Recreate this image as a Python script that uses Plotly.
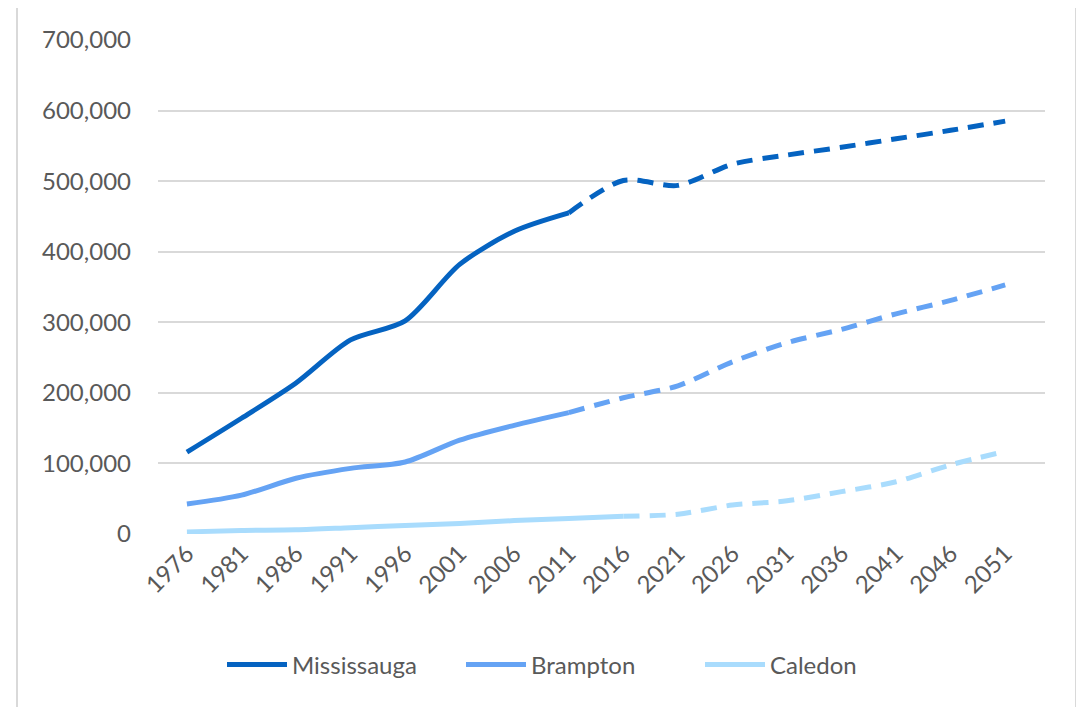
import plotly.graph_objects as go

years = ["1976", "1981", "1986", "1991", "1996", "2001", "2006", "2011",
         "2016", "2021", "2026", "2031", "2036", "2041", "2046", "2051"]
mississauga = [116000, 164000, 214000, 275000, 302000, 382000, 429000, 455000,
               501000, 494000, 524000, 537000, 548000, 560000, 572000, 585000]
brampton = [42500, 55000, 79000, 93000, 102000, 133000, 154000, 172000,
            193000, 210000, 244000, 271000, 290000, 312000, 331000, 353000]
caledon = [3000, 5000, 6000, 9000, 12000, 15000, 19000, 22000,
           25000, 28000, 41000, 47000, 60000, 74000, 98000, 117000]

series_names = ["Mississauga", "Brampton", "Caledon"]
series_values = [mississauga, brampton, caledon]
colors = ["#0563C1", "#65A3F4", "#A9DCFD"]
projection_start = ["2011", "2011", "2016"]

FONT = "Lato"
TEXT = "#595959"

fig = go.Figure()
for name, vals, col, ps in zip(series_names, series_values, colors, projection_start):
    k = years.index(ps)
    fig.add_trace(go.Scatter(
        x=years[:k + 1], y=vals[:k + 1], mode="lines", name=name,
        legendgroup=name,
        line=dict(color=col, width=5, shape="spline", smoothing=0.8),
        hoverinfo="skip"))
    fig.add_trace(go.Scatter(
        x=years[k:], y=vals[k:], mode="lines", name=name,
        legendgroup=name, showlegend=False,
        line=dict(color=col, width=5, shape="spline", smoothing=0.8,
                  dash="16px,10px"),
        hoverinfo="skip"))

OFF = 8  # page body margin
W, H = 1084 - OFF, 707 - OFF
L, R, T, B = 158 - OFF, 1045 - OFF, 40 - OFF, 534 - OFF
pw, ph = R - L, B - T

def px_x(x):
    return (x - OFF - L) / pw

def px_y(y):
    return (B - (y - OFF)) / ph

border = dict(color="#D9D9D9", width=2)
fig.add_shape(type="line", xref="paper", yref="paper",
              x0=px_x(17), x1=px_x(17), y0=px_y(5), y1=px_y(720), line=border)
fig.add_shape(type="line", xref="paper", yref="paper",
              x0=px_x(1076), x1=px_x(1076), y0=px_y(5), y1=px_y(720), line=border)
fig.add_shape(type="line", xref="paper", yref="paper",
              x0=px_x(17), x1=px_x(1076), y0=px_y(5), y1=px_y(5), line=border)

fig.update_layout(
    width=W, height=H,
    margin=dict(l=L, r=W - R, t=T, b=H - B, autoexpand=False),
    paper_bgcolor="white", plot_bgcolor="white",
    font=dict(family=FONT, size=24, color=TEXT),
    showlegend=True,
    legend=dict(orientation="h", x=px_x(222), xanchor="left",
                y=px_y(665), yanchor="middle",
                font=dict(family=FONT, size=24, color=TEXT),
                itemwidth=60, entrywidth=164, entrywidthmode="pixels",
                tracegroupgap=0),
    xaxis=dict(type="category", range=[-0.53, 15.73],
               tickangle=-45, showgrid=False, showline=False, zeroline=False,
               ticks="", tickfont=dict(family=FONT, size=24, color=TEXT)),
    yaxis=dict(range=[0, 700000], tickvals=[0, 100000, 200000, 300000, 400000,
                                            500000, 600000, 700000],
               tickformat=",", showgrid=True, gridcolor="#D9D9D9", gridwidth=2,
               zeroline=False, showline=False, ticks="", ticklabelstandoff=26,
               tickfont=dict(family=FONT, size=24, color=TEXT)),
)

fig.write_html("out.html")
